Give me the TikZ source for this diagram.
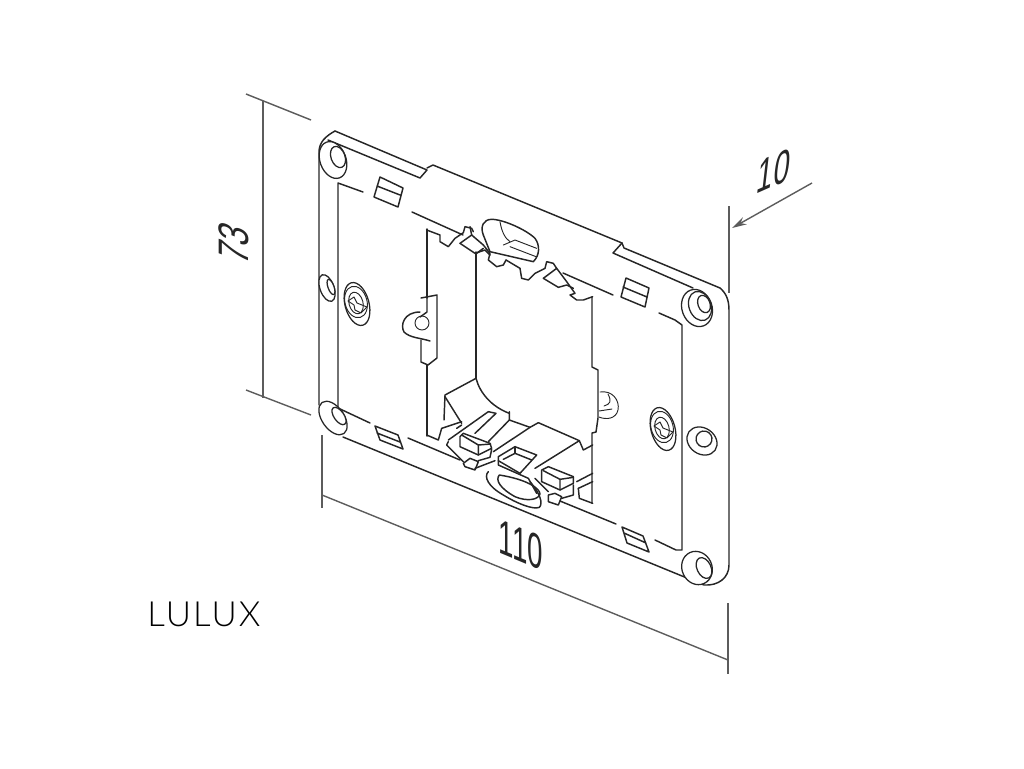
\documentclass[tikz,border=0pt]{standalone}
\usepackage{fontspec}
\setmainfont{Liberation Sans}
\newfontfamily\brandfont[UprightFont={* Light},LetterSpace=6]{Lato}
\usepackage{xcolor}
\usetikzlibrary{arrows.meta,calc}
\definecolor{ink}{rgb}{0.15,0.15,0.15}
\tikzstyle{part} = [line width=1.1pt, draw=ink, line join=round, line cap=round]
\tikzstyle{thin part} = [line width=0.7pt, draw=ink, line join=round, line cap=round]
\tikzstyle{hole} = [line width=0.95pt, draw=ink, fill=white]
\tikzstyle{dimline} = [line width=1.05pt, draw=ink!75]
\tikzstyle{dimtext} = [text=ink, font=\fontsize{32}{32}\selectfont, inner sep=0pt]
\tikzset{
	zoomfour/.style = {shift={(420,370)}, x=0.25pt, y=-0.25pt},
	zoomsix/.style = {shift={(420,210)}, x=0.25pt, y=-0.25pt}
}

\begin{document}
\begin{tikzpicture}[x=0.75pt, y=-0.75pt]
\useasboundingbox (0,0) rectangle (1024,768);
%----------------------------------------------------------------------------
% Plate outline
\draw [part] (335,131) -- (427,170) -- (420,178) -- (328,140);
\draw [part] (427,168) -- (433,165) -- (622,243) -- (624,248) -- (720,288)
	.. controls (726,293) and (729,300) .. (729,310) -- (729,565)
	.. controls (729,578) and (718,586) .. (704,585) -- (343,437);
\draw [part] (622,243) -- (613,253) -- (693,288);
\draw [part] (335,131) .. controls (326,136) and (319,142) .. (319,152) -- (319,405);
% Inner recess
\draw [part] (363,192) -- (338,183) -- (338,408) -- (370,423);
\draw [part] (412,212) -- (463,235);
\draw [part] (563,273) -- (613,295);
\draw [part] (659,313) -- (675,320) -- (682,325) -- (682,550) -- (676,550) -- (655,540);
\draw [part] (560,501) -- (616,524);
\draw [part] (408,438) -- (460,460);

%----------------------------------------------------------------------------
% Slots
\draw [part] (380,177) -- (403,188) -- (398,207) -- (374,197) -- cycle (377,186) -- (400,195);
\draw [part] (626,278) -- (649,288) -- (645,307) -- (621,297) -- cycle (623,287) -- (647,297);
\draw [part] (375,426) -- (398,435) -- (403,449) -- (380,440) -- cycle (377,433) -- (400,442);
\draw [part] (622,527) -- (643,536) -- (649,552) -- (627,543) -- cycle (624,533) -- (646,543);

%----------------------------------------------------------------------------
% Corner holes
\draw [hole] (333,160) ellipse [x radius=13, y radius=19, rotate=20];
\draw [hole] (338,157) ellipse [x radius=7, y radius=11, rotate=20];
\draw [hole] (697,308) ellipse [x radius=15, y radius=19, rotate=20];
\draw [hole] (700,306) ellipse [x radius=11, y radius=15, rotate=20];
\draw [hole] (704,304) ellipse [x radius=6, y radius=9, rotate=20];
\draw [hole] (333,418) ellipse [x radius=11, y radius=19, rotate=35];
\draw [hole] (339,416) ellipse [x radius=5, y radius=10, rotate=35];
\draw [hole] (697,568) ellipse [x radius=15, y radius=17, rotate=25];
\draw [hole] (704,568) ellipse [x radius=7, y radius=11, rotate=25];
% Side holes
\draw [hole] (327,288) ellipse [x radius=7, y radius=14, rotate=20];
\draw [hole] (331,287) ellipse [x radius=3, y radius=8, rotate=20];
\draw [hole] (702,441) ellipse [x radius=16, y radius=13, rotate=-35];
\draw [hole] (704,439) ellipse [x radius=8, y radius=8, rotate=-35];

%----------------------------------------------------------------------------
% Screws
\foreach \sx/\sy in {357/304, 663/429} {
	\draw [hole] (\sx,\sy) ellipse [x radius=12, y radius=22, rotate=15];
	\draw [thin part] (\sx-1,\sy-2) ellipse [x radius=11, y radius=16, rotate=15];
	\draw [thin part] (\sx-1,\sy-1) ellipse [x radius=7, y radius=11, rotate=15];
	\draw [thin part] (\sx-9,\sy-3) -- (\sx-3,\sy-7) -- (\sx,\sy-1) -- (\sx+10,\sy+3) -- (\sx+4,\sy+9) -- (\sx-2,\sy+6) -- (\sx-3,\sy+1) -- cycle;
}

%----------------------------------------------------------------------------
% Opening
\draw [part] (427,229) -- (427,298);
\draw [part] (427,365) -- (427,436);
\draw [part] (476,252) -- (476,378);
\draw [part] (592,297) -- (592,367) -- (598,370) -- (598,418) -- (596,432) -- (592,433) -- (592,503);
% Keyhole clip
\draw [part] (421,298) -- (437,295) -- (437,358) -- (428,365) -- (421,362) -- (421,340);
\draw [part] (427,298) -- (427,312) -- (420,317);
\draw [part] (420,312) .. controls (404,312) and (400,325) .. (404,332) .. controls (410,338) and (421,338) .. (430,341);
\draw [thin part] (422,323) circle [radius=7];
% Small half hole
\draw [thin part] (600,392) .. controls (612,390) and (620,400) .. (618,410) .. controls (616,419) and (606,420) .. (599,417);
\draw [thin part] (604,406) .. controls (610,404) and (612,402) .. (608,394);
\draw [thin part] (599,411) -- (612,409);

%----------------------------------------------------------------------------
% Upper bracket
\begin{scope}[zoomsix]
\draw [part] (20,60) -- (60,75) -- (60,95) -- (85,110) -- (105,85) -- (130,68) -- (135,50) -- (155,55) -- (160,65);
\draw [part] (150,50) -- (155,75) -- (190,105) -- (210,130) -- (205,150) -- (230,170) -- (250,165) -- (258,150);
\draw [part] (120,100) -- (155,75);
\draw [part] (120,100) -- (165,130) -- (195,120) -- (210,135);
\draw [part] (170,130) -- (190,115);
\draw [part] (190,75) .. controls (180,50) and (190,28) .. (215,28) .. controls (250,28) and (320,60) .. (345,85) .. controls (360,105) and (360,135) .. (340,155);
\draw [part] (190,75) -- (210,125) -- (340,155);
\draw [thin part] (240,35) .. controls (245,65) and (255,85) .. (270,95);
\draw [thin part] (250,105) -- (285,90) -- (350,115);
\draw [thin part] (270,110) -- (348,140);
\draw [part] (300,175) -- (305,205) -- (325,210) -- (345,190) -- (375,175) -- (380,155) -- (400,160) -- (410,175);
\draw [part] (300,175) -- (258,150);
\draw [part] (370,205) -- (410,175) -- (440,215) -- (465,250) -- (450,255) -- (470,270) -- (490,270) -- (518,260);
\draw [part] (370,205) -- (415,232) -- (440,225) -- (460,235);
\end{scope}

%----------------------------------------------------------------------------
% Lower bracket
\begin{scope}[zoomfour]
% chute
\draw [part] (168,25) -- (75,75) -- (72,150);
\draw [part] (75,80) -- (125,160);
\draw [part] (168,25) .. controls (180,70) and (215,110) .. (268,130);
\draw [part] (20,195) -- (55,210) -- (65,175) -- (125,155);
% bar
\draw [part] (85,210) -- (205,125) -- (228,130) -- (165,190);
\draw [part] (110,175) -- (125,165);
\draw [part] (205,215) -- (268,150) -- (268,125);
\draw [part] (268,150) -- (330,172) -- (355,158) -- (478,212) -- (490,240) -- (518,225);
\draw [part] (220,245) -- (330,172);
\draw [part] (478,212) -- (345,295);
% first box
\draw [part] (120,200) -- (130,190) -- (210,220) -- (215,235) -- (175,255) -- (120,230) -- cycle;
\draw [part] (125,195) -- (175,225) -- (175,255);
\draw [part] (175,225) -- (212,222);
\draw [part] (85,215) -- (80,225) -- (130,275);
\draw [part] (130,280) -- (150,265) -- (175,275) -- (165,300) -- (135,290) -- cycle;
\draw [part] (175,272) -- (210,262) -- (215,238);
\draw [part] (165,295) -- (225,272);
% socket
\draw [part] (235,260) -- (285,230) -- (350,255) -- (300,310) -- (235,272) -- cycle;
\draw [part] (250,268) -- (285,250) -- (335,270);
\draw [part] (285,230) -- (285,250);
\draw [part] (235,272) -- (235,285) -- (325,325) -- (350,370);
% oval
\draw [part] (205,305) .. controls (190,320) and (205,350) .. (250,375) .. controls (290,400) and (340,420) .. (358,412) .. controls (370,400) and (360,370) .. (330,335);
\draw [part] (238,315) .. controls (225,330) and (240,355) .. (285,380) .. controls (320,395) and (355,390) .. (360,372) .. controls (360,355) and (320,328) .. (238,315);
% second box
\draw [part] (365,300) -- (385,290) -- (460,320) -- (460,340) -- (420,360) -- (365,335) -- cycle;
\draw [part] (370,302) -- (420,328) -- (420,360);
\draw [part] (420,328) -- (460,322);
\draw [part] (345,325) -- (385,365);
\draw [part] (385,375) -- (405,370) -- (425,380) -- (415,405) -- (385,395) -- cycle;
\draw [part] (425,385) -- (460,375) -- (460,345);
\draw [part] (470,335) -- (518,310);
\draw [part] (475,355) -- (518,335);
\draw [part] (475,355) -- (478,385) -- (518,400);
\end{scope}

%----------------------------------------------------------------------------
% Dimensions
\draw [dimline] (246,94) -- (311,120);
\draw [dimline] (246,390) -- (311,415);
\draw [dimline] (263,101) -- (263,398);
\draw [dimline] (729,206) -- (729,293);
\coordinate (tenStart) at (812,183);
\coordinate (tenEnd) at (732,228);
\draw [dimline, -{Stealth[length=11pt,width=6pt]}] (tenStart) -- (tenEnd);
\draw [dimline] (322,435) -- (322,508);
\draw [dimline] (728,603) -- (728,674);
\draw [dimline] (322,495) -- (728,660);

\node (dimHeight) [dimtext, cm={0,0.75,-1,0.38,(0,0)}] at (234,243) {73};
\node (dimDepth) [dimtext, cm={0.68,0.3,0.13,1.12,(0,0)}] at (774,171) {10};
\node (dimWidth) [dimtext, cm={0.65,-0.27,0,1.15,(0,0)}] at (521,545) {110};
\node (brand) [text=black, font=\brandfont\fontsize{26}{26}\selectfont, inner sep=0pt] at (204,614) {LULUX};
\end{tikzpicture}
\end{document}
